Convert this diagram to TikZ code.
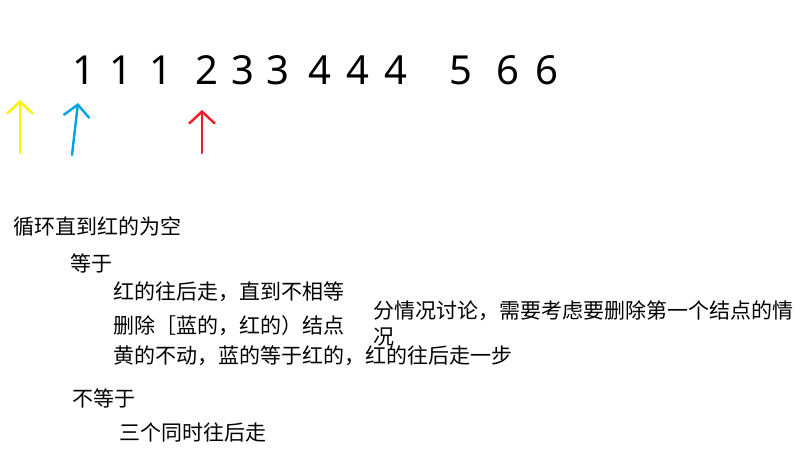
\documentclass[tikz,border=0pt]{standalone}
\usepackage{fontspec}
\newfontfamily\cjk{Noto Sans CJK SC}
\newfontfamily\hand{Noto Sans}
\usetikzlibrary{arrows.meta}
\definecolor{pyellow}{RGB}{255,242,0}
\definecolor{pblue}{RGB}{0,162,232}
\definecolor{pred}{RGB}{237,28,36}

\begin{document}
\begin{tikzpicture}[x=1pt,y=-1pt,
		txt/.style={anchor=west,inner sep=0pt,font=\cjk\fontsize{21}{26}\selectfont},
		digit/.style={inner sep=0pt,font=\hand\fontsize{40}{40}\selectfont},
		ptr/.style={line width=2.4pt,line cap=round,
				-{Straight Barb[length=12pt,width=26pt,line width=2.4pt]}}
	]
	\useasboundingbox (0,0) rectangle (811,475);
	% the sequence
	\foreach \d/\x [count=\i] in {1/84,1/121,1/161,2/207,3/243,3/278,4/320,4/358,4/396,5/461,6/508,6/547}
	\node[digit] (d\i) at (\x,70) {\d};
	% pointers
	\coordinate (ybot) at (20,153);
	\coordinate (ytop) at (20,100);
	\coordinate (bbot) at (72,155);
	\coordinate (btop) at (78,103);
	\coordinate (rbot) at (202,153);
	\coordinate (rtop) at (202,110);
	\draw[ptr,pyellow] (ybot) -- (ytop);
	\draw[ptr,pblue] (bbot) -- (btop);
	\draw[ptr,pred] (rbot) -- (rtop);
	% notes
	\node[txt] (loop) at (13,227) {循环直到红的为空};
	\node[txt] (eq) at (70,263) {等于};
	\node[txt] (eq1) at (113,292) {红的往后走，直到不相等};
	\node[txt] (eq2) at (113,326) {删除［蓝的，红的）结点};
	\node[txt] (eq3) at (113,356) {黄的不动，蓝的等于红的，红的往后走一步};
	\node[txt,align=left] (cases) at (373,323) {分情况讨论，需要考虑要删除第一个结点的情\\况};
	\node[txt] (neq) at (72,398) {不等于};
	\node[txt] (neq1) at (119,432) {三个同时往后走};
\end{tikzpicture}
\end{document}
